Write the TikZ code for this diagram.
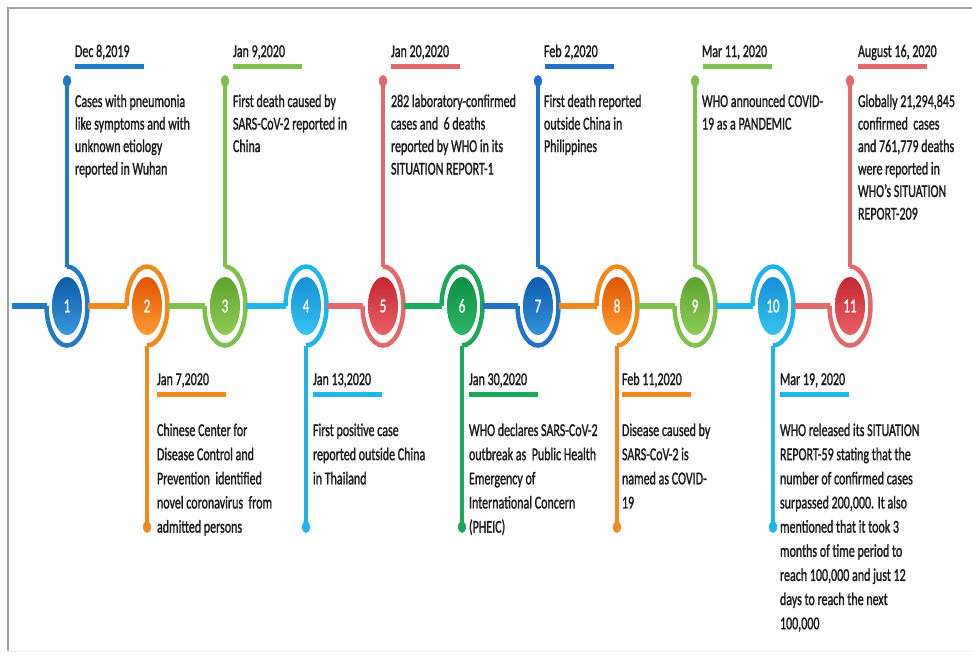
\documentclass[tikz,border=0pt]{standalone}
\usepackage{fontspec}
\setmainfont{Carlito}
\newfontfamily\heavyfont{Carlito}[FakeBold=1.6]
\usepackage{graphicx}
\usetikzlibrary{shapes.geometric}
% ring / line colours
\definecolor{rBlue}{HTML}{1F7BC4}
\definecolor{rOrange}{HTML}{F08A1C}
\definecolor{rLGreen}{HTML}{7DC14A}
\definecolor{rCyan}{HTML}{1DB5EA}
\definecolor{rRed}{HTML}{E3686C}
\definecolor{rGreen}{HTML}{1BA85A}
\definecolor{rBlueB}{HTML}{1F72C4}
% core shading colours
\definecolor{iBlueT}{HTML}{0D5BA8}\definecolor{iBlueB}{HTML}{3A97DD}
\definecolor{iOrT}{HTML}{E05500}\definecolor{iOrB}{HTML}{FF9A30}
\definecolor{iLGrT}{HTML}{5BA32E}\definecolor{iLGrB}{HTML}{8FCC55}
\definecolor{iCyT}{HTML}{1590D6}\definecolor{iCyB}{HTML}{35C3F2}
\definecolor{iRedT}{HTML}{C4282F}\definecolor{iRedB}{HTML}{EA6064}
\definecolor{iGrT}{HTML}{0B9141}\definecolor{iGrB}{HTML}{2DB665}
\definecolor{iBl2T}{HTML}{0C5CAE}\definecolor{iBl2B}{HTML}{3391DD}
\definecolor{txtcol}{HTML}{1A1A1A}
\definecolor{bordercol}{HTML}{A0A0A0}
\newcommand\evtext[1]{\scalebox{1}[1.5]{\begin{tabular}[t]{@{}l@{}}#1\end{tabular}}}
\newcommand\evdate[1]{\scalebox{1}[1.5]{#1}}
\begin{document}
\begin{tikzpicture}[x=1pt,y=1pt,
  ringn/.style={ellipse, minimum width=41pt, minimum height=79pt, inner sep=0pt, outer sep=0pt},
  core/.style={ellipse, minimum width=30pt, minimum height=58pt, inner sep=0pt, outer sep=0pt, text=white, font=\heavyfont\fontsize{13}{15}\selectfont},
  dotn/.style={ellipse, minimum width=8pt, minimum height=12pt, inner sep=0pt, outer sep=0pt},
  arcline/.style={line width=4.5pt},
  hline/.style={line width=5.5pt},
  vline/.style={line width=3.5pt},
  uline/.style={line width=5pt},
  txt/.style={anchor=base west, inner sep=0pt, outer sep=0pt, text=txtcol, font=\heavyfont\fontsize{12}{15}\selectfont},
  txtb/.style={txt, font=\heavyfont\fontsize{12}{16.1}\selectfont}]
\useasboundingbox (0,0) rectangle (972,-657);
\fill[white] (0,0) rectangle (972,-657);
% frame
\draw[bordercol, line width=1.5pt] (972,-8) -- (8,-8) -- (8,-651);
\draw[bordercol!25, line width=1pt] (8,-651) -- (972,-651);

% circles
\foreach \i/\x/\tc/\bc in {1/67/iBlueT/iBlueB, 2/147/iOrT/iOrB, 3/225/iLGrT/iLGrB,
  4/306/iCyT/iCyB, 5/383/iRedT/iRedB, 6/462/iGrT/iGrB, 7/538/iBl2T/iBl2B,
  8/617/iOrT/iOrB, 9/695/iLGrT/iLGrB, 10/773/iCyT/iCyB, 11/850/iRedT/iRedB}{
  \node[ringn] (r\i) at (\x,-306) {};
  \node[core, top color=\tc, bottom color=\bc] (c\i) at (\x,-306) {\scalebox{1}[1.5]{\i}};
}

% rings (open arcs)
\foreach \i/\rc in {1/rBlue, 3/rLGreen, 5/rRed, 7/rBlueB, 9/rLGreen, 11/rRed}
  \draw[arcline, \rc] (r\i.north) arc[start angle=90, end angle=-180, x radius=20.5, y radius=39.5];
\foreach \i/\rc in {2/rOrange, 4/rCyan, 6/rGreen, 8/rOrange, 10/rCyan}
  \draw[arcline, \rc] (r\i.west) arc[start angle=180, end angle=-90, x radius=20.5, y radius=39.5];

% horizontal connectors
\coordinate (start) at (12,-306);
\draw[hline, rBlue] (start) -- (r1.west);
\foreach \a/\b/\col in {1/2/rOrange, 2/3/rLGreen, 3/4/rCyan, 4/5/rRed, 5/6/rGreen,
  6/7/rBlueB, 7/8/rOrange, 8/9/rLGreen, 9/10/rCyan, 10/11/rRed}
  \draw[hline, \col] (r\a.east) -- (r\b.west);

% vertical stems with end dots
\foreach \i/\x/\rc in {1/67/rBlue, 3/225/rLGreen, 5/383/rRed, 7/538/rBlueB, 9/695/rLGreen, 11/850/rRed}{
  \node[dotn, fill=\rc] (d\i) at (\x,-81) {};
  \draw[vline, \rc] (d\i.center) -- (r\i.north);
}
\foreach \i/\x/\rc in {2/147/rOrange, 4/306/rCyan, 6/462/rGreen, 8/617/rOrange, 10/773/rCyan}{
  \node[dotn, fill=\rc] (d\i) at (\x,-527) {};
  \draw[vline, \rc] (r\i.south) -- (d\i.center);
}

% underlines below dates
\foreach \tx/\rc in {75/rBlue, 233/rLGreen, 391/rRed, 545/rBlueB, 703/rLGreen, 858/rRed}
  \draw[uline, \rc] (\tx,-66.5) -- ++(69,0);
\foreach \tx/\rc in {157/rOrange, 313/rCyan, 469/rGreen, 622/rOrange, 780/rCyan}
  \draw[uline, \rc] (\tx,-394.5) -- ++(69,0);

% top dates and texts
\node[txt] (date1) at (75,-57) {\evdate{Dec 8,2019}};
\node[txt] (text1) at (75,-107) {\evtext{Cases with pneumonia\\like symptoms and with\\unknown etiology\\reported in Wuhan}};
\node[txt] (date3) at (233,-57) {\evdate{Jan 9,2020}};
\node[txt] (text3) at (233,-107) {\evtext{First death caused by\\SARS-CoV-2 reported in\\China}};
\node[txt] (date5) at (391,-57) {\evdate{Jan 20,2020}};
\node[txt] (text5) at (391,-107) {\evtext{282 laboratory-confirmed\\cases and\ \ 6 deaths\\reported by WHO in its\\SITUATION REPORT-1}};
\node[txt] (date7) at (544,-57) {\evdate{Feb 2,2020}};
\node[txt] (text7) at (544,-107) {\evtext{First death reported\\outside China in\\Philippines}};
\node[txt] (date9) at (702,-57) {\evdate{Mar 11, 2020}};
\node[txt] (text9) at (702,-107) {\evtext{WHO announced COVID-\\19 as a PANDEMIC}};
\node[txt] (date11) at (858,-57) {\evdate{August 16, 2020}};
\node[txt] (text11) at (858,-107) {\evtext{Globally 21,294,845\\confirmed\ \ cases\\and 761,779 deaths\\were reported in\\WHO’s SITUATION\\REPORT-209}};

% bottom dates and texts
\node[txt] (date2) at (157,-385) {\evdate{Jan 7,2020}};
\node[txtb] (text2) at (157,-436) {\evtext{Chinese Center for\\Disease Control and\\Prevention\ \ identified\\novel coronavirus\ \ from\\admitted persons}};
\node[txt] (date4) at (313,-385) {\evdate{Jan 13,2020}};
\node[txtb] (text4) at (313,-436) {\evtext{First positive case\\reported outside China\\in Thailand}};
\node[txt] (date6) at (469,-385) {\evdate{Jan 30,2020}};
\node[txtb] (text6) at (469,-436) {\evtext{WHO declares SARS-CoV-2\\outbreak as\ \ Public Health\\Emergency of\\International Concern\\(PHEIC)}};
\node[txt] (date8) at (622,-385) {\evdate{Feb 11,2020}};
\node[txtb] (text8) at (622,-436) {\evtext{Disease caused by\\SARS-CoV-2 is\\named as COVID-\\19}};
\node[txt] (date10) at (780,-385) {\evdate{Mar 19, 2020}};
\node[txtb] (text10) at (780,-436) {\evtext{WHO released its SITUATION\\REPORT-59 stating that the\\number of confirmed cases\\surpassed 200,000. It also\\mentioned that it took 3\\months of time period to\\reach 100,000 and just 12\\days to reach the next\\100,000}};
\end{tikzpicture}
\end{document}
